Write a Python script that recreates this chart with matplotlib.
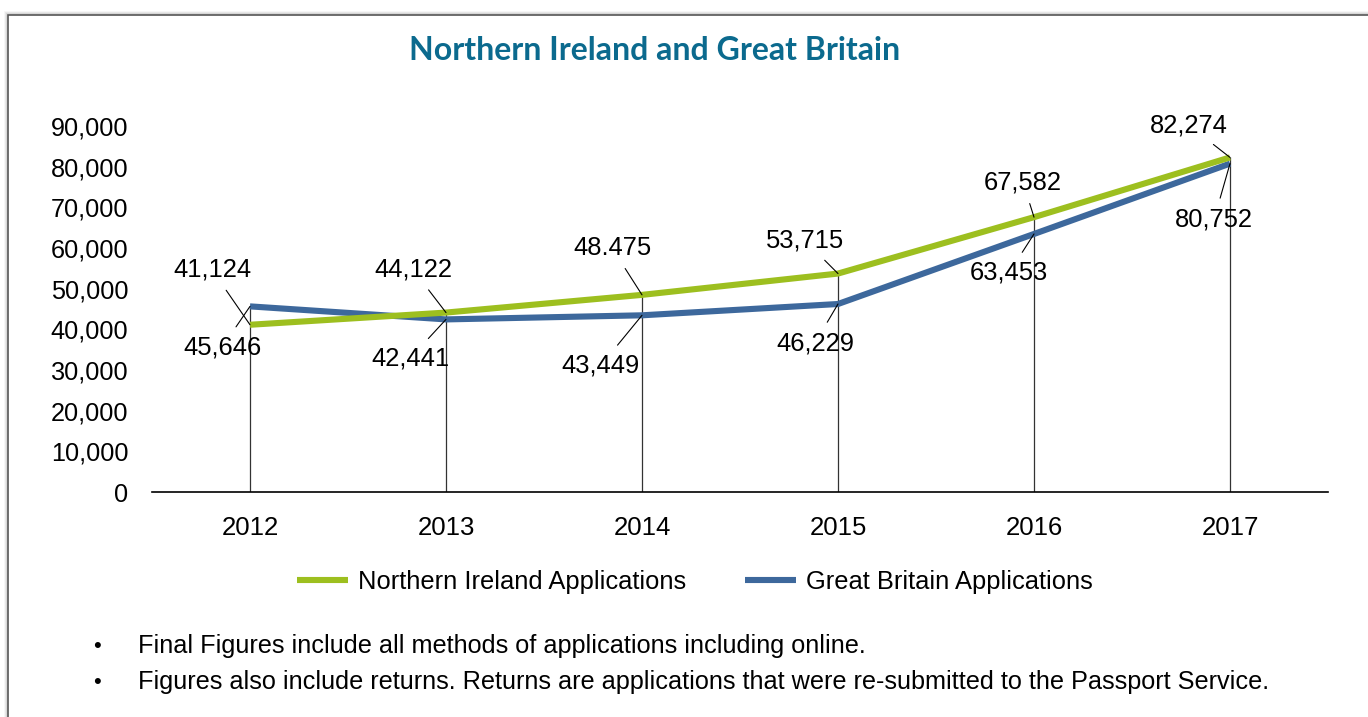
"""Passport applications: Northern Ireland vs Great Britain, 2012-2017."""

import matplotlib.pyplot as plt
from matplotlib.patches import Rectangle
from matplotlib.ticker import FuncFormatter

years = ["2012", "2013", "2014", "2015", "2016", "2017"]
ni_apps = [41124, 44122, 48475, 53715, 67582, 82274]
gb_apps = [45646, 42441, 43449, 46229, 63453, 80752]
ni_labels = ["41,124", "44,122", "48.475", "53,715", "67,582", "82,274"]
gb_labels = ["45,646", "42,441", "43,449", "46,229", "63,453", "80,752"]

notes = [
    "Final Figures include all methods of applications including online.",
    "Figures also include returns. Returns are applications that were "
    "re-submitted to the Passport Service.",
]

GREEN = "#9dbf1f"
BLUE = "#3d689c"

# label offsets in pixels (text centre relative to the point)
ni_offsets = [(-38, 55), (-33, 43), (-30, 47), (-33, 33), (-11, 35), (-41, 32)]
gb_offsets = [(-28, -41), (-36, -39), (-41, -50), (-23, -39), (-25, -39), (-16, -56)]

plt.rcParams["font.family"] = ["Liberation Sans", "DejaVu Sans"]

fig = plt.figure(figsize=(13.68, 7.17), dpi=100)

# chart frame with a soft shadow
W, H = 1368, 717
fig.patches.append(Rectangle((8 / W, -0.1), 1.2, (717 - 15) / H + 0.1,
                             transform=fig.transFigure, facecolor="white",
                             edgecolor="#555555", lw=1.2, zorder=-1))
for i, a in enumerate([0.10, 0.06, 0.03]):
    fig.patches.append(Rectangle((8 / W - (i + 1) / W, -0.1), 1.2,
                                 (717 - 15 + (i + 1)) / H + 0.1,
                                 transform=fig.transFigure, facecolor="none",
                                 edgecolor="black", alpha=a, lw=1.5, zorder=-2))

ax = fig.add_axes([152 / W, 1 - 492 / H, (1328 - 152) / W, (492 - 126) / H])
x = range(len(years))

ax.vlines(x, 0, [max(a, b) for a, b in zip(ni_apps, gb_apps)],
          color="#333333", lw=0.9, zorder=1)
ax.plot(x, ni_apps, color=GREEN, lw=4.4, solid_capstyle="butt", zorder=3,
        label="Northern Ireland Applications")
ax.plot(x, gb_apps, color=BLUE, lw=4.4, solid_capstyle="butt", zorder=2,
        label="Great Britain Applications")

for xs, vals, labels, offs in [(x, ni_apps, ni_labels, ni_offsets),
                               (x, gb_apps, gb_labels, gb_offsets)]:
    for xi, v, lab, (dx, dy) in zip(xs, vals, labels, offs):
        ax.annotate(lab, (xi, v), xytext=(dx, dy), textcoords="offset pixels",
                    ha="center", va="center", fontsize=18.4, zorder=4,
                    arrowprops=dict(arrowstyle="-", color="black", lw=0.8,
                                    shrinkA=5, shrinkB=0))

ax.set_xlim(-0.5, len(years) - 0.5)
ax.set_ylim(0, 90000)
ax.set_yticks(range(0, 90001, 10000))
ax.yaxis.set_major_formatter(FuncFormatter(lambda v, p: f"{int(v):,}"))
ax.set_xticks(list(x))
ax.set_xticklabels(years)
ax.tick_params(axis="y", length=0, pad=17, labelsize=18.2)
ax.tick_params(axis="x", length=0, pad=17, labelsize=18.5)
for side in ["left", "right", "top"]:
    ax.spines[side].set_visible(False)
ax.spines["bottom"].set_color("black")
ax.spines["bottom"].set_linewidth(1.2)
ax.patch.set_alpha(0)

fig.text(655 / W, 1 - 51 / H, "Northern Ireland and Great Britain",
         ha="center", va="center", fontsize=23, fontweight="bold",
         color="#0b6a8e", family=["Lato", "DejaVu Sans"])

fig.legend(loc="center", bbox_to_anchor=(695 / W, 1 - 582 / H), ncol=2,
           frameon=False, fontsize=18.4, handlelength=2.0, columnspacing=2.3,
           handletextpad=0.4)

for i, note in enumerate(notes):
    yy = 1 - (646 + 36 * i) / H
    fig.text(97 / W, yy, "\u2022", ha="center", va="center", fontsize=16)
    fig.text(138 / W, yy, note, ha="left", va="center", fontsize=18.2)

fig.savefig("out.png", dpi=100)
